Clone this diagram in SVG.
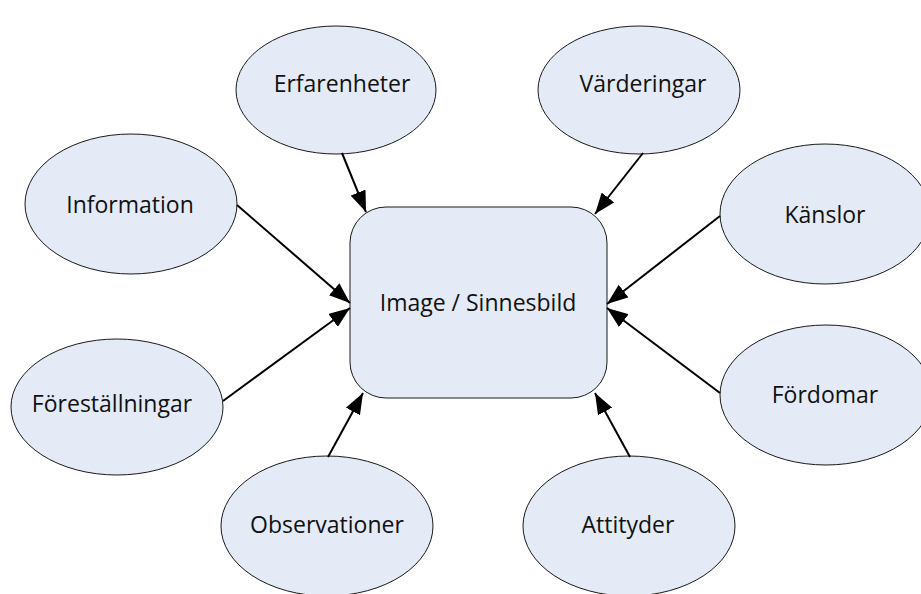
<svg xmlns="http://www.w3.org/2000/svg" width="921" height="594" viewBox="0 0 921 594">
  <style>
    .shape { fill: #E4EBF6; stroke: #1a1a1a; stroke-width: 1; }
    .label { font-family: "Open Sans", "Noto Sans", "Liberation Sans", sans-serif; font-size: 23px; fill: #111; text-anchor: middle; }
    .edge { stroke: #000; stroke-width: 2; fill: none; marker-end: url(#head); }
  </style>
  <defs>
    <marker id="head" markerUnits="userSpaceOnUse" markerWidth="22" markerHeight="16" refX="21" refY="8" orient="auto">
      <path d="M0,0 L21,8 L0,16 z" fill="#000"/>
    </marker>
  </defs>

  <rect width="921" height="594" fill="#fff"/>

  <g id="image">
    <rect class="shape" x="350" y="207" width="257" height="191" rx="36" ry="36"/>
    <text class="label" x="478" y="311">Image / Sinnesbild</text>
  </g>

  <g id="erfarenheter">
    <ellipse class="shape" cx="336" cy="90" rx="100" ry="64"/>
    <text class="label" x="342" y="92">Erfarenheter</text>
  </g>
  <g id="varderingar">
    <ellipse class="shape" cx="639" cy="90" rx="101" ry="64"/>
    <text class="label" x="643" y="92">Värderingar</text>
  </g>
  <g id="information">
    <ellipse class="shape" cx="131" cy="204" rx="106" ry="70"/>
    <text class="label" x="130" y="213">Information</text>
  </g>
  <g id="kanslor">
    <ellipse class="shape" cx="825" cy="214" rx="105" ry="70"/>
    <text class="label" x="825" y="223">Känslor</text>
  </g>
  <g id="forestallningar">
    <ellipse class="shape" cx="117" cy="407" rx="106" ry="68"/>
    <text class="label" x="112" y="412">Föreställningar</text>
  </g>
  <g id="fordomar">
    <ellipse class="shape" cx="826" cy="395" rx="106" ry="70"/>
    <text class="label" x="825" y="403">Fördomar</text>
  </g>
  <g id="observationer">
    <ellipse class="shape" cx="327" cy="526" rx="106" ry="70"/>
    <text class="label" x="327" y="533">Observationer</text>
  </g>
  <g id="attityder">
    <ellipse class="shape" cx="629" cy="526" rx="106" ry="70"/>
    <text class="label" x="628" y="533">Attityder</text>
  </g>

  <g id="connectors">
    <line class="edge" x1="342" y1="153" x2="366" y2="212"/>
    <line class="edge" x1="643" y1="153" x2="595" y2="214"/>
    <line class="edge" x1="237" y1="205" x2="350" y2="303"/>
    <line class="edge" x1="720" y1="216" x2="607" y2="304"/>
    <line class="edge" x1="223" y1="401" x2="350" y2="308"/>
    <line class="edge" x1="720" y1="393" x2="607" y2="308"/>
    <line class="edge" x1="328" y1="457" x2="363" y2="393"/>
    <line class="edge" x1="630" y1="457" x2="595" y2="393"/>
  </g>
</svg>
